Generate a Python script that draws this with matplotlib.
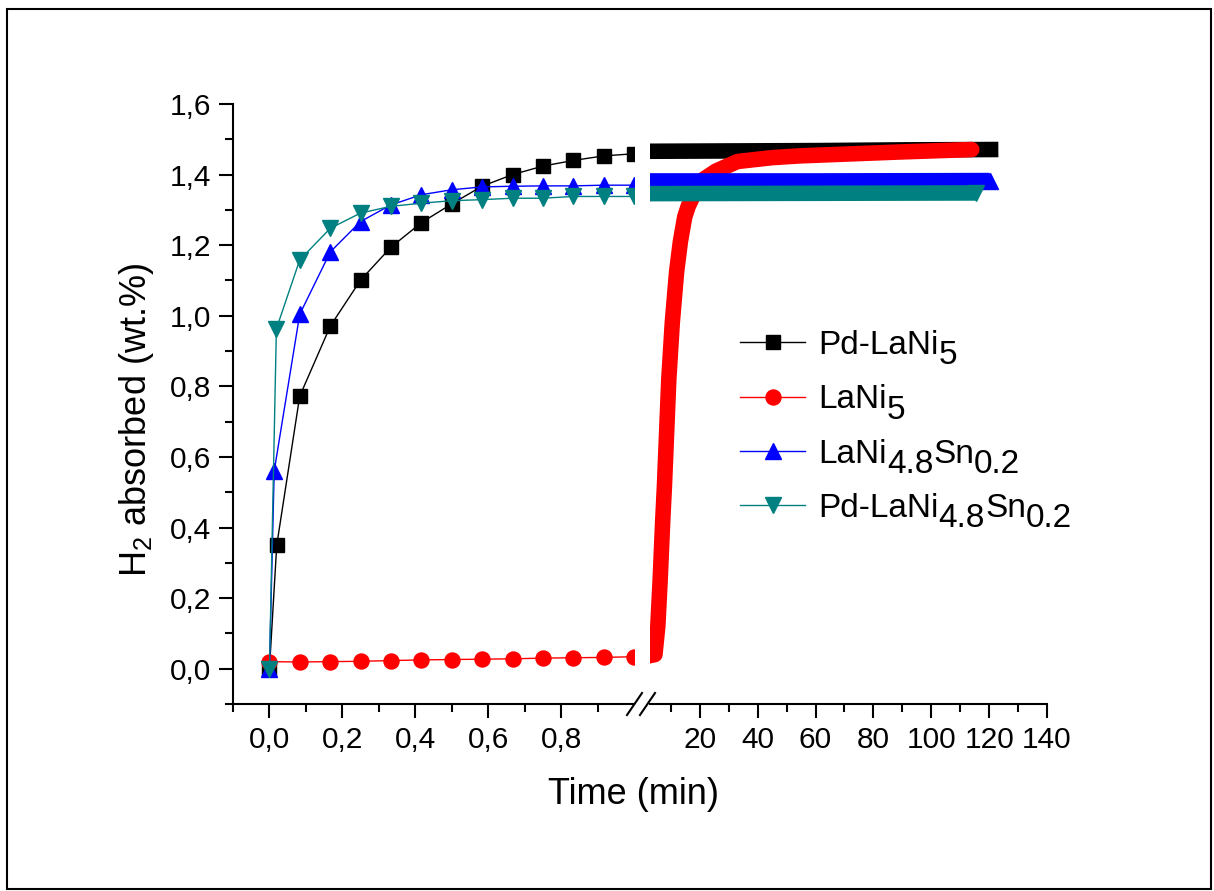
import matplotlib
matplotlib.use("Agg")
import matplotlib.pyplot as plt
from matplotlib.ticker import MultipleLocator, FixedLocator, FuncFormatter
from matplotlib.lines import Line2D
from matplotlib.patches import Rectangle

plt.rcParams['font.family'] = ['Liberation Sans', 'DejaVu Sans']
plt.rcParams['mathtext.fontset'] = 'custom'
plt.rcParams['mathtext.rm'] = 'Liberation Sans'
plt.rcParams['mathtext.it'] = 'Liberation Sans:italic'
plt.rcParams['mathtext.bf'] = 'Liberation Sans:bold'
plt.rcParams['mathtext.default'] = 'regular'

# ---- data: first minute (left part of the broken axis) ----
t_pd_lani5 = [0.0, 0.02, 0.083, 0.167, 0.25, 0.333, 0.417, 0.5, 0.583, 0.667, 0.75, 0.833, 0.917, 1.0]
h_pd_lani5 = [0.0, 0.35, 0.772, 0.971, 1.101, 1.194, 1.264, 1.317, 1.367, 1.400, 1.424, 1.440, 1.453, 1.459]

t_lani5 = [0.0, 0.083, 0.167, 0.25, 0.333, 0.417, 0.5, 0.583, 0.667, 0.75, 0.833, 0.917, 1.0]
h_lani5 = [0.020, 0.019, 0.020, 0.021, 0.023, 0.025, 0.026, 0.027, 0.028, 0.030, 0.031, 0.032, 0.034]

t_lanisn = [0.0, 0.013, 0.083, 0.167, 0.25, 0.333, 0.417, 0.5, 0.583, 0.667, 0.75, 0.833, 0.917, 1.0]
h_lanisn = [0.0, 0.56, 1.004, 1.181, 1.267, 1.314, 1.343, 1.357, 1.365, 1.367, 1.368, 1.368, 1.370, 1.370]

t_pd_lanisn = [0.0, 0.019, 0.083, 0.167, 0.25, 0.333, 0.417, 0.5, 0.583, 0.667, 0.75, 0.833, 0.917, 1.0]
h_pd_lanisn = [0.0, 0.963, 1.158, 1.248, 1.291, 1.310, 1.319, 1.326, 1.329, 1.333, 1.333, 1.338, 1.338, 1.338]

# ---- data: long time (right part of the broken axis), dense points ----
T_pd_lani5 = [1.0, 30, 60, 90, 120.5]
H_pd_lani5 = [1.466, 1.467, 1.468, 1.470, 1.471]

T_lani5 = [1.0, 4.5, 5.5, 6.3, 7.2, 7.8, 8.6, 9.3, 10.5, 12, 13.3, 14.8, 16, 18, 21, 25.6, 33, 45, 54.5, 89, 114]
H_lani5 = [0.034, 0.04, 0.12, 0.25, 0.42, 0.52, 0.68, 0.82, 0.98, 1.125, 1.21, 1.28, 1.31, 1.345, 1.385,
           1.41, 1.437, 1.448, 1.453, 1.464, 1.471]

T_lanisn = [1.0, 60, 120.2]
H_lanisn = [1.382, 1.382, 1.383]

T_pd_lanisn = [1.0, 60, 115.3]
H_pd_lanisn = [1.346, 1.347, 1.348]

# legend labels: main text + pieces (text, level); level -1 = subscript (full size, like the original)
label_parts = [
    ['Pd-LaNi', ('5', -1)],
    ['LaNi', ('5', -1)],
    ['LaNi', ('4.8', -1), ('Sn', 0), ('0.2', -1)],
    ['Pd-LaNi', ('4.8', -1), ('Sn', 0), ('0.2', -1)],
]
colors = ['black', 'red', 'blue', '#008080']
markers = ['s', 'o', '^', 'v']
msizes = [9.5, 10.8, 11.5, 11.5]

W, H = 1214, 891
fig = plt.figure(figsize=(W / 100, H / 100), dpi=100)

ax1 = fig.add_axes([233 / W, 1 - 704 / H, (634 - 233) / W, 600 / H])
ax2 = fig.add_axes([650 / W, 1 - 704 / H, (1047 - 650) / W, 600 / H])

left_data = [(t_pd_lani5, h_pd_lani5), (t_lani5, h_lani5), (t_lanisn, h_lanisn), (t_pd_lanisn, h_pd_lanisn)]
right_data = [(T_pd_lani5, H_pd_lani5), (T_lani5, H_lani5), (T_lanisn, H_lanisn), (T_pd_lanisn, H_pd_lanisn)]

for (x, y), parts, c, m, ms in zip(left_data, label_parts, colors, markers, msizes):
    ax1.plot(x, y, color=c, lw=1.0, marker=m, ms=ms, mec=c, mfc=c, label=parts[0])

# dense data on the right look like thick bands
caps = ['projecting', 'round', 'butt', 'butt']
for i, ((x, y), c, m, ms) in enumerate(zip(right_data, colors, markers, msizes)):
    ax2.plot(x, y, color=c, lw=11.2, solid_capstyle=caps[i], solid_joinstyle='round')
    if m in ('^', 'v'):
        ax2.plot(x[-1:], y[-1:], ls='none', marker=m, ms=ms, color=c)

ax1.set_xlim(-0.1, 1.0)
ax2.set_xlim(2.8, 140)
for ax in (ax1, ax2):
    ax.set_ylim(-0.1, 1.6)
    ax.spines['top'].set_visible(False)
    ax.spines['right'].set_visible(False)
    ax.spines['bottom'].set_linewidth(1.5)
    ax.spines['left'].set_linewidth(1.5)
    ax.tick_params(which='major', direction='out', length=10, width=1.5, labelsize=21.5, pad=6)
    ax.tick_params(which='minor', direction='out', length=5.5, width=1.5)

comma = FuncFormatter(lambda v, p: ('%.1f' % v).replace('.', ','))
ax1.xaxis.set_major_locator(FixedLocator([0.0, 0.2, 0.4, 0.6, 0.8]))
ax1.xaxis.set_minor_locator(FixedLocator([-0.1, 0.1, 0.3, 0.5, 0.7, 0.9]))
ax1.xaxis.set_major_formatter(comma)
ax1.yaxis.set_major_locator(MultipleLocator(0.2))
ax1.yaxis.set_minor_locator(MultipleLocator(0.1))
ax1.yaxis.set_major_formatter(comma)

ax2.xaxis.set_major_locator(FixedLocator([20, 40, 60, 80, 100, 120, 140]))
ax2.xaxis.set_minor_locator(FixedLocator([10, 30, 50, 70, 90, 110, 130]))
ax2.spines['left'].set_visible(False)
ax2.tick_params(axis='y', which='both', left=False, labelleft=False)
ax2.patch.set_alpha(0)

# axis break marks
for x0 in (627, 640):
    fig.add_artist(Line2D([x0 / W, (x0 + 15) / W], [1 - 715 / H, 1 - 693 / H],
                          transform=fig.transFigure, color='black', lw=1.5))

fig.text(634 / W, 1 - 795 / H, 'Time (min)', ha='center', va='center', fontsize=26)
fig.text(137 / W, 1 - 420 / H, 'H$_2$ absorbed (wt.%)', ha='center', va='center',
         rotation=90, fontsize=26)

leg_fs = 24
leg = ax1.legend(loc='upper left', bbox_to_anchor=(740 / W, 1 - 330 / H), bbox_transform=fig.transFigure,
                 frameon=False, fontsize=leg_fs, handlelength=1.95, handletextpad=0.4,
                 labelspacing=0.7, borderpad=0, borderaxespad=0)

# pieces chained after each legend text
shift = 7.5  # points
for txt, parts in zip(leg.get_texts(), label_parts):
    prev = txt
    level = 0
    for s, lv in parts[1:]:
        dy = (lv - level) * shift
        level = lv
        prev = ax1.annotate(s, xy=(1, 0), xycoords=prev, xytext=(0, dy), textcoords='offset points',
                            ha='left', va='bottom', fontsize=leg_fs, zorder=6)

fig.add_artist(Rectangle((7 / W, 2 / H), (1211 - 7) / W, (889 - 9) / H, transform=fig.transFigure,
                         fill=False, lw=1.5, ec='black'))

fig.canvas.draw()
fig.savefig('out.png', dpi=100)
